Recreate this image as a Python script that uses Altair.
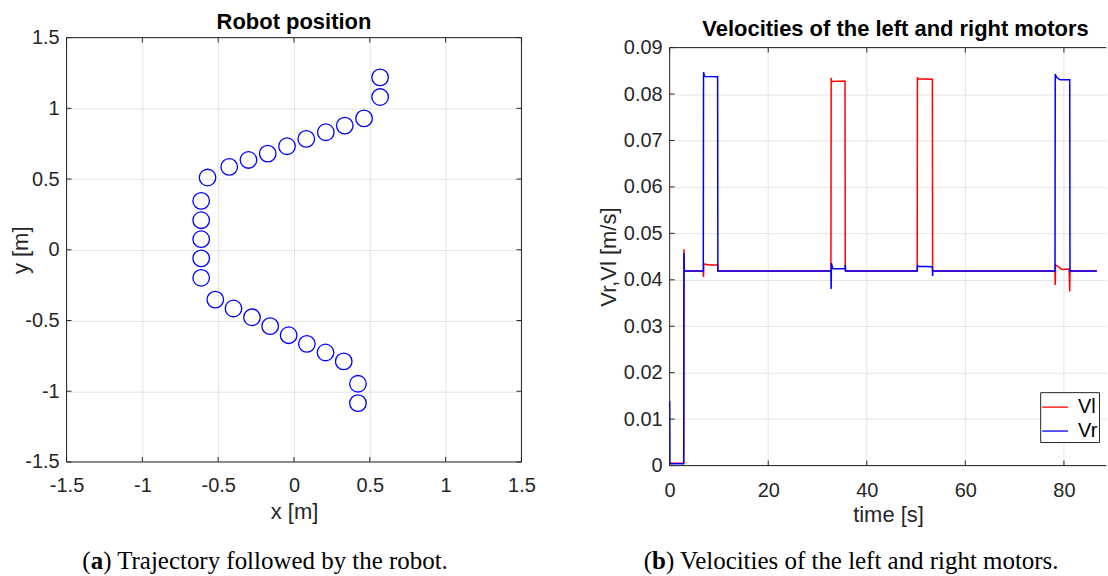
import altair as alt
import pandas as pd

# ---------------- data ----------------
pos_x = [0.568, 0.568, 0.462, 0.335, 0.210, 0.081, -0.046, -0.173, -0.300, -0.427,
         -0.570, -0.612, -0.612, -0.612, -0.612, -0.612, -0.519, -0.399, -0.277,
         -0.157, -0.035, 0.085, 0.208, 0.328, 0.422, 0.422]
pos_y = [1.219, 1.080, 0.929, 0.878, 0.831, 0.784, 0.732, 0.680, 0.635, 0.586,
         0.511, 0.346, 0.209, 0.075, -0.061, -0.198, -0.352, -0.415, -0.477,
         -0.540, -0.604, -0.665, -0.726, -0.789, -0.947, -1.084]
pos_ticks = [-1.5, -1.0, -0.5, 0.0, 0.5, 1.0, 1.5]

vl_t = [0.0, 2.85, 2.9, 2.95, 6.82, 6.87, 6.92, 8.0, 9.73, 9.78, 32.72, 32.77, 32.87,
        35.58, 35.63, 50.23, 50.28, 50.38, 53.31, 53.36, 78.19, 78.24, 78.29, 78.9,
        79.6, 81.05, 81.18, 81.23, 86.68]
vl_v = [0.0005, 0.0005, 0.0466, 0.0419, 0.0419, 0.0406, 0.0434, 0.0432, 0.0432,
        0.0419, 0.0419, 0.0835, 0.0827, 0.0828, 0.0419, 0.0419, 0.0836, 0.0833,
        0.0832, 0.0419, 0.0419, 0.0389, 0.0432, 0.0428, 0.0422, 0.0423, 0.0375,
        0.0419, 0.0419]
vr_t = [0.0, 0.05, 2.85, 2.9, 2.95, 6.82, 6.87, 7.1, 9.73, 9.78, 32.72, 32.77, 32.82,
        33.1, 35.58, 35.63, 35.73, 50.23, 50.28, 50.38, 53.31, 53.36, 53.41, 78.19,
        78.24, 78.5, 79.2, 81.18, 81.23, 86.68]
vr_v = [0.0139, 0.0004, 0.0004, 0.0457, 0.0419, 0.0419, 0.0847, 0.0838, 0.0837,
        0.0419, 0.0419, 0.0380, 0.0436, 0.0424, 0.0424, 0.0432, 0.0419, 0.0419,
        0.0432, 0.0429, 0.0428, 0.0408, 0.0419, 0.0419, 0.0843, 0.0836, 0.0831,
        0.0831, 0.0419, 0.0419]
series_names = ["Vl", "Vr"]
series_colors = ["#ff0000", "#0000ff"]
time_ticks = [0, 20, 40, 60, 80]
vel_ticks = [0, 0.01, 0.02, 0.03, 0.04, 0.05, 0.06, 0.07, 0.08, 0.09]

left_title = ["Robot position"]
right_title = ["Velocities of the left and right motors"]
caption_a = ["(", "a", ") Trajectory followed by the robot."]
caption_b = ["(", "b", ") Velocities of the left and right motors."]

# ---------------- style ----------------
FONT = "Liberation Sans"
SERIF = "Liberation Serif"
AX = "#262626"
GRID = "#e5e5e5"
LW, LH = 456, 425.4
RW, RH = 437.7, 429
RTOP = 10
TICK = 5
CAP_FS = 25
CAP_Y = 533


def tdf(vals):
    return pd.DataFrame({"v": vals})


def text_layer(txt, x, y, **kw):
    return alt.Chart(pd.DataFrame({"c": txt})).mark_text(**kw).encode(
        text="c:N", x=alt.value(x), y=alt.value(y))


def caption(parts, x0, y0, bw):
    common = dict(font=SERIF, fontSize=CAP_FS, baseline="alphabetic", color="black")
    return [
        text_layer([parts[0]], x0, y0, align="right", **common),
        text_layer([parts[1]], x0, y0, align="left", fontWeight="bold", **common),
        text_layer([parts[2]], x0 + bw, y0, align="left", **common),
    ]


def title_layer(txt, x, y):
    return text_layer(txt, x, y, font=FONT, fontSize=22, fontWeight="bold",
                      color="black", align="center", baseline="alphabetic")


def frame(w, h):
    one = tdf([0])
    return [
        alt.Chart(one).mark_rule(color=AX).encode(x=alt.value(0), x2=alt.value(w), y=alt.value(0)),
        alt.Chart(one).mark_rule(color=AX).encode(x=alt.value(0), x2=alt.value(w), y=alt.value(h)),
        alt.Chart(one).mark_rule(color=AX).encode(x=alt.value(0), y=alt.value(0), y2=alt.value(h)),
        alt.Chart(one).mark_rule(color=AX).encode(x=alt.value(w), y=alt.value(0), y2=alt.value(h)),
    ]


# ---------------- left panel ----------------
xs = alt.Scale(domain=[-1.5, 1.5], nice=False, zero=False)
ys = alt.Scale(domain=[-1.5, 1.5], nice=False, zero=False)

circles = alt.Chart(pd.DataFrame({"x": pos_x, "y": pos_y})).mark_point(
    shape="circle", filled=False, color="#0000ff", size=275, strokeWidth=1.3, opacity=1
).encode(
    x=alt.X("x:Q", scale=xs, axis=alt.Axis(values=pos_ticks, grid=True,
            labelExpr="datum.value + ''", labelPadding=13.5, title="x [m]",
            titleY=56.6, titleBaseline="alphabetic")),
    y=alt.Y("y:Q", scale=ys, axis=alt.Axis(values=pos_ticks, grid=True,
            labelExpr="datum.value + ''", labelPadding=7.4, title="y [m]",
            titleX=-38.7, titleBaseline="alphabetic")),
)

lt = [
    alt.Chart(tdf(pos_ticks)).mark_rule(color=AX).encode(
        x=alt.X("v:Q", scale=xs), y=alt.value(LH), y2=alt.value(LH - TICK)),
    alt.Chart(tdf(pos_ticks)).mark_rule(color=AX).encode(
        x=alt.X("v:Q", scale=xs), y=alt.value(0), y2=alt.value(TICK)),
    alt.Chart(tdf(pos_ticks)).mark_rule(color=AX).encode(
        y=alt.Y("v:Q", scale=ys), x=alt.value(0), x2=alt.value(TICK)),
    alt.Chart(tdf(pos_ticks)).mark_rule(color=AX).encode(
        y=alt.Y("v:Q", scale=ys), x=alt.value(LW), x2=alt.value(LW - TICK)),
]

left = alt.layer(
    circles, *lt, *frame(LW, LH),
    title_layer(left_title, LW / 2, -8.3),
    *caption(caption_a, 80.6 - 64.7 + 8.3, CAP_Y, 12.5),
).properties(width=LW, height=LH)

# ---------------- right panel ----------------
txs = alt.Scale(domain=[0, 88.6], nice=False, zero=False)
tys = alt.Scale(domain=[0, 0.09], range=[RH, RTOP], nice=False, zero=False)

df_l = pd.DataFrame({"t": vl_t, "v": vl_v, "s": series_names[0]})
df_r = pd.DataFrame({"t": vr_t, "v": vr_v, "s": series_names[1]})

color = alt.Color("s:N", scale=alt.Scale(domain=series_names, range=series_colors),
                  legend=alt.Legend(orient="none", legendX=371.4, legendY=355.4, title=None,
                                    symbolType="stroke", symbolSize=676, symbolStrokeWidth=1.3,
                                    labelFont=FONT, labelFontSize=20, labelColor="#000000",
                                    labelOffset=9, padding=1, rowPadding=-1.7,
                                    strokeColor=AX, fillColor="white"))

line_l = alt.Chart(df_l).mark_line(strokeWidth=1.5).encode(
    x=alt.X("t:Q", scale=txs, axis=alt.Axis(values=time_ticks, grid=False, labelPadding=14.9,
            title="time [s]", titleY=56, titleBaseline="alphabetic")),
    y=alt.Y("v:Q", scale=tys, axis=alt.Axis(values=vel_ticks, grid=True,
            labelExpr="datum.value + ''", labelPadding=7.5, title="Vr,Vl [m/s]",
            titleX=-54.3, titleBaseline="alphabetic")),
    color=color,
)
line_r = alt.Chart(df_r).mark_line(strokeWidth=1.5).encode(
    x=alt.X("t:Q", scale=txs),
    y=alt.Y("v:Q", scale=tys),
    color=alt.Color("s:N"),
)

xgrid = alt.Chart(tdf(time_ticks)).mark_rule(color=GRID).encode(
    x=alt.X("v:Q", scale=txs), y=alt.datum(0), y2=alt.datum(0.09))

one = tdf([0])
rborders = [
    alt.Chart(one).mark_rule(color=AX).encode(y=alt.datum(0.09), x=alt.value(0), x2=alt.value(RW)),
    alt.Chart(one).mark_rule(color=AX).encode(y=alt.datum(0), x=alt.value(0), x2=alt.value(RW)),
    alt.Chart(one).mark_rule(color=AX).encode(x=alt.value(0), y=alt.datum(0), y2=alt.datum(0.09)),
]
rticks = [
    alt.Chart(tdf(time_ticks)).mark_rule(color=AX).encode(
        x=alt.X("v:Q", scale=txs), y=alt.value(RH), y2=alt.value(RH - TICK)),
    alt.Chart(tdf(time_ticks)).mark_rule(color=AX, y2Offset=TICK).encode(
        x=alt.X("v:Q", scale=txs), y=alt.datum(0.09), y2=alt.datum(0.09)),
    alt.Chart(tdf(vel_ticks)).mark_rule(color=AX).encode(
        y=alt.Y("v:Q", scale=tys), x=alt.value(0), x2=alt.value(TICK)),
]

right = alt.layer(
    xgrid, line_l, line_r, *rborders, *rticks,
    title_layer(right_title, 895.7 - 669.3, -1.3),
    *caption(caption_b, 643.3 - 669.3 + 8.3, CAP_Y, 13.9),
).properties(width=RW, height=RH)

chart = alt.hconcat(left, right, spacing=148.6, bounds="flush").resolve_scale(
    color="independent"
).properties(
    padding={"left": 8.7, "top": 10, "right": 0, "bottom": 0}
).configure_view(stroke="transparent").configure_axis(
    labelFont=FONT, labelFontSize=20, labelColor=AX, titleFont=FONT, titleFontSize=22,
    titleFontWeight="normal", titleColor=AX, domain=False, ticks=False, tickSize=0,
    gridColor=GRID, gridWidth=1, labelFlush=False, labelOverlap=False,
)

chart.save("out.html", embed_options={"renderer": "svg", "actions": False})
